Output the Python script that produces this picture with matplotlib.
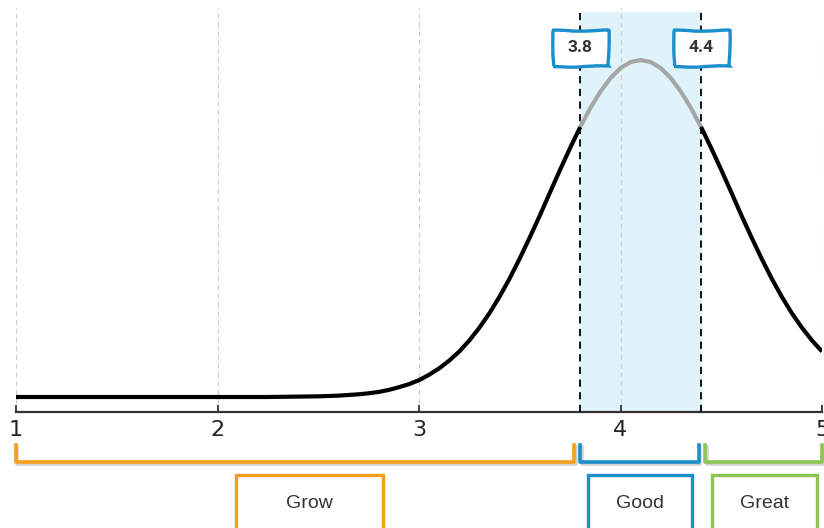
import matplotlib
matplotlib.use("Agg")
import matplotlib.pyplot as plt
import matplotlib.patheffects as pe
from matplotlib.patches import Rectangle
from matplotlib.transforms import blended_transform_factory
import numpy as np

# ---------------- data ----------------
curve_x = [1.0, 1.25, 1.5, 1.75, 2.0, 2.25, 2.5,
           2.6, 2.65, 2.7, 2.75, 2.8, 2.85, 2.9, 2.95, 3.0, 3.05, 3.1, 3.15,
           3.2, 3.25, 3.3, 3.35, 3.4, 3.45, 3.5, 3.55, 3.6, 3.65, 3.7, 3.75,
           3.8, 3.85, 3.9, 3.95, 4.0, 4.05, 4.1, 4.15, 4.2, 4.25, 4.3, 4.35,
           4.4, 4.45, 4.5, 4.55, 4.6, 4.65, 4.7, 4.75, 4.8, 4.85, 4.9, 4.95, 5.0]
curve_y = [0.0, 0.0, 0.0, 0.0, 0.0, 0.0, 0.002,
           0.004, 0.006, 0.008, 0.011, 0.015, 0.021, 0.029, 0.038, 0.050, 0.066,
           0.085, 0.108, 0.135, 0.168, 0.206, 0.249, 0.298, 0.352, 0.411, 0.474,
           0.539, 0.607, 0.674, 0.739, 0.801, 0.857, 0.906, 0.946, 0.976, 0.994,
           1.000, 0.994, 0.976, 0.946, 0.906, 0.857, 0.801, 0.739, 0.674, 0.607,
           0.539, 0.474, 0.411, 0.352, 0.298, 0.249, 0.206, 0.168, 0.135]
tick_values = [1, 2, 3, 4, 5]
tick_labels = ["1", "2", "3", "4", "5"]
highlight = [3.8, 4.4]
highlight_labels = ["3.8", "4.4"]
band_names = ["Grow", "Good", "Great"]
band_ranges = [(1.0, 3.77), (3.8, 4.39), (4.42, 5.0)]
band_colors = ["#F59E1B", "#1A8FCB", "#8DC552"]
# box geometry for band labels (x range in data units, purely layout)
band_boxes = [(2.09, 2.82), (3.84, 4.355), (4.455, 4.975)]

# ---------------- figure ----------------
W, H = 824, 528
fig = plt.figure(figsize=(W / 100, H / 100), dpi=100)
ax = fig.add_axes([16 / W, 1 - 412 / H, (822 - 16) / W, (412 - 8) / H])

ax.set_xlim(1, 5)
ax.set_ylim(-15 / 337, (397 - 8) / 337)

# highlight band
ax.axvspan(highlight[0], highlight[1], ymin=0, ymax=(412 - 12) / 404,
           color="#E1F3FA", zorder=0)

# grid
for t in tick_values:
    ax.axvline(t, color="#CFCFCF", lw=0.9, ls=(0, (4, 3)), zorder=0.5)

# curve: black outside the band, gray inside
x = np.array(curve_x)
y = np.array(curve_y)
lo, hi = highlight
m_left = x <= lo
m_mid = (x >= lo) & (x <= hi)
m_right = x >= hi
ax.plot(x[m_left], y[m_left], color="black", lw=3, solid_capstyle="butt", zorder=3)
ax.plot(x[m_mid], y[m_mid], color="#A6A6A6", lw=3, solid_capstyle="butt", zorder=3)
ax.plot(x[m_right], y[m_right], color="black", lw=3, solid_capstyle="butt", zorder=3)

# dashed boundaries
for v in highlight:
    ax.axvline(v, color="black", lw=1.3, ls=(0, (4, 3)), zorder=4)

# value labels with slightly hand-drawn boxes
trans = blended_transform_factory(ax.transData, fig.transFigure)
px_per_unit = (822 - 16) / 4.0
bw = 55 / px_per_unit
for v, s in zip(highlight, highlight_labels):
    r = Rectangle((v - bw / 2, 1 - 66 / H), bw, 36 / H, transform=trans,
                  fc="white", ec="#1A8FCB", lw=2.4, zorder=6, clip_on=False)
    r.set_sketch_params(scale=0.7, length=90, randomness=4)
    ax.add_patch(r)
    ax.text(v, 1 - 48 / H, s, transform=trans, ha="center", va="center",
            fontsize=12.5, fontweight="bold", color="#333333", family="Roboto",
            zorder=7)

# axes styling
for s in ["top", "left", "right"]:
    ax.spines[s].set_visible(False)
ax.spines["bottom"].set_color("#333333")
ax.spines["bottom"].set_linewidth(1.6)
ax.set_yticks([])
ax.set_xticks(tick_values)
ax.set_xticklabels(tick_labels, fontsize=16, color="#222222", family="DejaVu Sans")
ax.tick_params(axis="x", direction="in", length=5, width=1.3, color="#333333", pad=6)

# brackets below the axis
top_f = 1 - 445 / H
bot_f = 1 - 462 / H
for (a, b), c in zip(band_ranges, band_colors):
    ax.plot([a, a, b, b], [top_f, bot_f, bot_f, top_f], color=c, lw=2.6,
            transform=trans, clip_on=False, solid_joinstyle="round",
            path_effects=[pe.SimpleLineShadow(offset=(1, -1.5), shadow_color="gray", alpha=0.35),
                          pe.Normal()])

# label boxes
box_top = 1 - 475 / H
for (a, b), name, c in zip(band_boxes, band_names, band_colors):
    r = Rectangle((a, -0.05), b - a, box_top + 0.05, transform=trans,
                  fill=False, ec=c, lw=2.4, clip_on=False)
    ax.add_patch(r)
    ax.text((a + b) / 2, 1 - 503 / H, name, transform=trans, ha="center",
            va="center", fontsize=14, color="#333333", family="Liberation Sans")

fig.savefig("out.png", dpi=100)
